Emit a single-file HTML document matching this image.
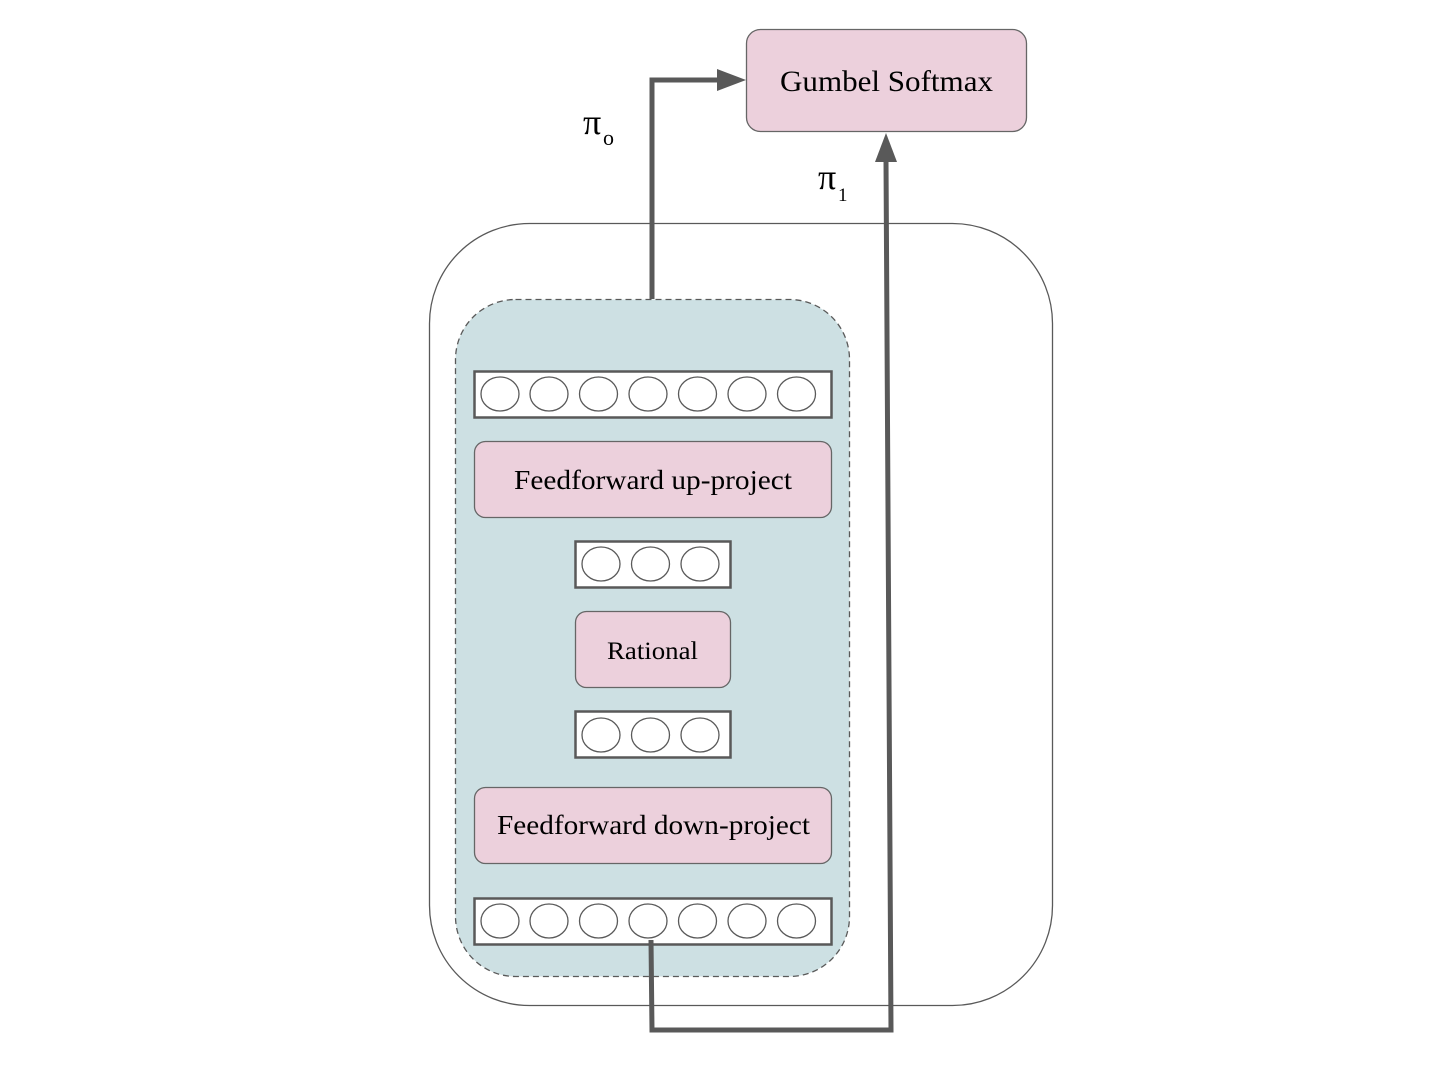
<!DOCTYPE html>
<html><head><meta charset="utf-8"><style>
html,body{margin:0;padding:0;background:#fff;}
svg{display:block;}
text{font-family:"Liberation Serif",serif;fill:#000;}
</style></head><body>
<svg width="1442" height="1070" viewBox="0 0 1442 1070" xmlns="http://www.w3.org/2000/svg">
<rect x="429.5" y="223.5" width="623" height="782" rx="100" ry="100" fill="#fff" stroke="#595959" stroke-width="1.3"/>
<rect x="455.5" y="299.5" width="394" height="677" rx="60" ry="60" fill="#cde0e3" stroke="#595959" stroke-width="1.3" stroke-dasharray="6,4"/>
<g stroke="#595959" fill="#fff">
<rect x="474.5" y="371.5" width="357" height="46" stroke-width="2.5"/>
<ellipse cx="500" cy="394" rx="19" ry="17" stroke-width="1.3"/>
<ellipse cx="549" cy="394" rx="19" ry="17" stroke-width="1.3"/>
<ellipse cx="598.5" cy="394" rx="19" ry="17" stroke-width="1.3"/>
<ellipse cx="648" cy="394" rx="19" ry="17" stroke-width="1.3"/>
<ellipse cx="697.5" cy="394" rx="19" ry="17" stroke-width="1.3"/>
<ellipse cx="747" cy="394" rx="19" ry="17" stroke-width="1.3"/>
<ellipse cx="796.5" cy="394" rx="19" ry="17" stroke-width="1.3"/>
<rect x="575.5" y="541.5" width="155" height="46" stroke-width="2.5"/>
<ellipse cx="601" cy="564" rx="19" ry="17" stroke-width="1.3"/>
<ellipse cx="650.5" cy="564" rx="19" ry="17" stroke-width="1.3"/>
<ellipse cx="700" cy="564" rx="19" ry="17" stroke-width="1.3"/>
<rect x="575.5" y="711.5" width="155" height="46" stroke-width="2.5"/>
<ellipse cx="601" cy="735" rx="19" ry="17" stroke-width="1.3"/>
<ellipse cx="650.5" cy="735" rx="19" ry="17" stroke-width="1.3"/>
<ellipse cx="700" cy="735" rx="19" ry="17" stroke-width="1.3"/>
<rect x="474.5" y="898.5" width="357" height="46" stroke-width="2.5"/>
<ellipse cx="500" cy="921" rx="19" ry="17" stroke-width="1.3"/>
<ellipse cx="549" cy="921" rx="19" ry="17" stroke-width="1.3"/>
<ellipse cx="598.5" cy="921" rx="19" ry="17" stroke-width="1.3"/>
<ellipse cx="648" cy="921" rx="19" ry="17" stroke-width="1.3"/>
<ellipse cx="697.5" cy="921" rx="19" ry="17" stroke-width="1.3"/>
<ellipse cx="747" cy="921" rx="19" ry="17" stroke-width="1.3"/>
<ellipse cx="796.5" cy="921" rx="19" ry="17" stroke-width="1.3"/>
</g>
<g fill="#ecd0dc" stroke="#666" stroke-width="1.3">
<rect x="474.5" y="441.5" width="357" height="76" rx="11"/>
<rect x="575.5" y="611.5" width="155" height="76" rx="11"/>
<rect x="474.5" y="787.5" width="357" height="76" rx="11"/>
<rect x="746.5" y="29.5" width="280" height="102" rx="14"/>
</g>
<text x="514" y="489" font-size="27" textLength="278" lengthAdjust="spacingAndGlyphs">Feedforward up-project</text>
<text x="607" y="659" font-size="25" textLength="91" lengthAdjust="spacingAndGlyphs">Rational</text>
<text x="497" y="834" font-size="27" textLength="313" lengthAdjust="spacingAndGlyphs">Feedforward down-project</text>
<text x="780" y="91" font-size="30" textLength="213" lengthAdjust="spacingAndGlyphs">Gumbel Softmax</text>
<g stroke="#595959" stroke-width="5" fill="none">
<polyline points="652,299 652,80 720,80"/>
<polyline points="651,940 652,1030 891,1030 886,160"/>
</g>
<polygon points="717,69 746,80 717,91" fill="#595959"/>
<polygon points="875,162 886,133 897,162" fill="#595959"/>
<text x="583" y="134" font-size="36">π</text>
<text x="603" y="145" font-size="22">o</text>
<text x="818" y="189" font-size="36">π</text>
<text x="838" y="201" font-size="19">1</text>
</svg>
</body></html>
